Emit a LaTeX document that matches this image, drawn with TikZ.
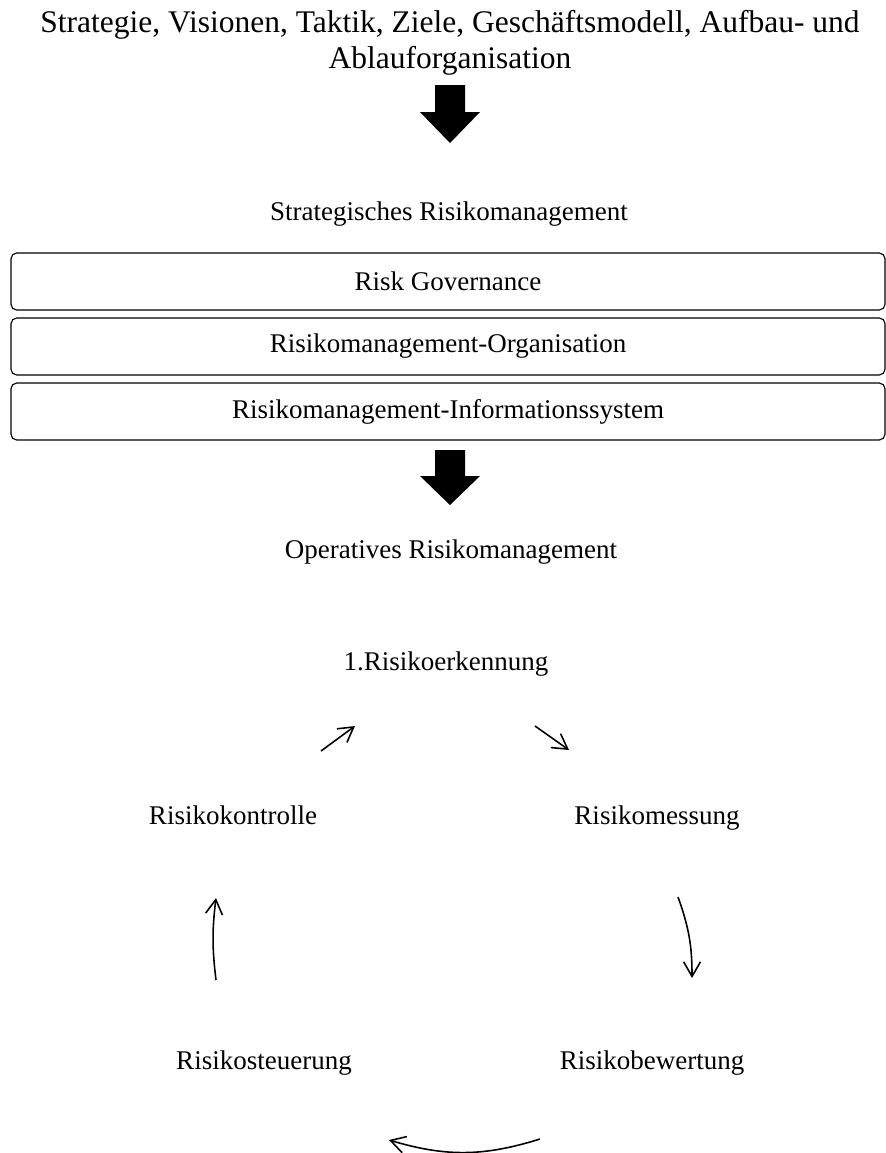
\documentclass[tikz,border=0pt]{standalone}
\usepackage{fontspec}
\setmainfont{Liberation Serif}
\usetikzlibrary{arrows.meta}

\begin{document}
\begin{tikzpicture}[x=0.4444pt, y=-0.4444pt, >={Straight Barb[length=6.5pt,width=7.5pt]},
  lbl/.style={inner sep=0pt, anchor=base, font=\fontsize{12}{14.4}\selectfont},
  layer/.style={draw, line width=0.5pt, rounded corners=2.5pt, minimum width=388.4pt,
    minimum height=25.3pt, inner sep=0pt, font=\fontsize{12}{14.4}\selectfont},
  cyc/.style={->, line width=0.7pt}]

\useasboundingbox (0,0) rectangle (886,1153);

% Title
\node[inner sep=0pt, align=center, font=\fontsize{14}{16.1}\selectfont] (title) at (450,43)
  {Strategie, Visionen, Taktik, Ziele, Geschäftsmodell, Aufbau- und\\Ablauforganisation};

% Block arrows
\foreach \ytop/\yhead/\ytip in {85/112/143, 450/476/505} {
  \fill (435,\ytop) -- (465,\ytop) -- (465,\yhead) -- (480,\yhead) -- (450,\ytip)
    -- (420,\yhead) -- (435,\yhead) -- cycle;
}

% Strategic level
\node[lbl] (strat) at (449,220) {Strategisches Risikomanagement};
\node[layer] (gov) at (448,281.5) {Risk Governance};
\node[layer] (org) at (448,346.5) {Risikomanagement-Organisation};
\node[layer] (mis) at (448,411.5) {Risikomanagement-Informationssystem};

% Operative level
\node[lbl] (oper) at (451,558) {Operatives Risikomanagement};

% Cycle
\node[lbl] (erk) at (446,670) {1.Risikoerkennung};
\node[lbl] (kontr) at (233,824) {Risikokontrolle};
\node[lbl] (mess) at (657,824) {Risikomessung};
\node[lbl] (steu) at (264,1069) {Risikosteuerung};
\node[lbl] (bew) at (652,1069) {Risikobewertung};

\coordinate (kontrA) at (321,751);
\coordinate (erkA) at (355,726);
\coordinate (erkB) at (535,726);
\coordinate (messA) at (569,750);
\coordinate (messB) at (678,897);
\coordinate (bewA) at (692,978);
\coordinate (bewB) at (540,1139);
\coordinate (steuA) at (389,1140);
\coordinate (steuB) at (216,980);
\coordinate (kontrB) at (216,898);

\draw[cyc] (kontrA) -- (erkA);
\draw[cyc] (erkB) -- (messA);
\draw[cyc] (messB) to[bend left=10] (bewA);
\draw[cyc] (bewB) to[bend left=17] (steuA);
\draw[cyc] (steuB) to[bend left=7] (kontrB);

\end{tikzpicture}
\end{document}
